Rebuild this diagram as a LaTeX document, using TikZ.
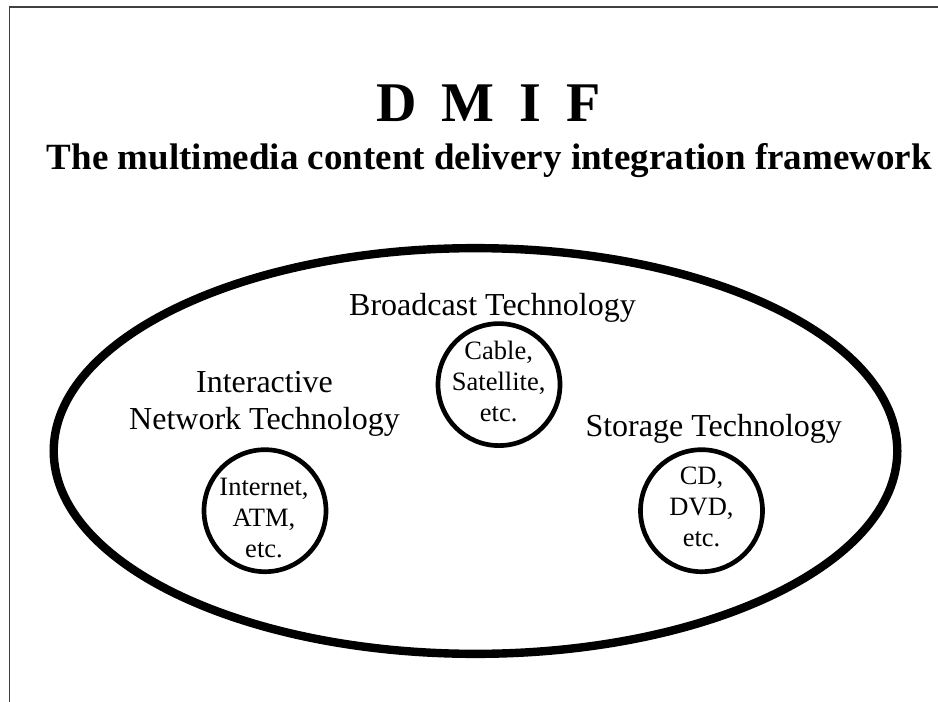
\documentclass[tikz,border=0pt]{standalone}
\usepackage{fontspec}
\setmainfont{Liberation Serif}
\usetikzlibrary{shapes.geometric}
\newdimen\u \u=0.75pt
\tikzset{
  outer/.style={draw,ellipse,line width=6.3pt,minimum width=843.6\u,minimum height=405.7\u,inner sep=0pt},
  tech/.style={draw,circle,line width=3.5pt,inner sep=0pt,minimum size=122\u},
  techtext/.style={align=center,inner sep=0pt,font=\fontsize{26.5\u}{31\u}\selectfont},
  lab/.style={align=center,inner sep=0pt,font=\fontsize{32\u}{37.5\u}\selectfont},
  ttl/.style={anchor=base,inner sep=0pt,font=\bfseries\fontsize{56\u}{64\u}\selectfont},
  sub/.style={anchor=base,inner sep=0pt,font=\bfseries\fontsize{37\u}{40\u}\selectfont}
}
\begin{document}
\begin{tikzpicture}[x=0.75pt,y=-0.75pt]
\useasboundingbox (0,0) rectangle (938,702);
\fill[white] (0,0) rectangle (938,702);
\coordinate (tl) at (9.5,702);
\coordinate (tt) at (9.5,7);
\coordinate (tr) at (938,7);
\draw[line width=1pt,black!75] (tl) -- (tt) -- (tr);
\node[ttl] (title) at (488.5,122) {D\hspace{0.45em}M\hspace{0.45em}I\hspace{0.45em}F};
\node[sub] (subtitle) at (489.3,170) {The multimedia content delivery integration framework};
\node[outer] (o) at (475.5,451) {};
\node[lab,anchor=base] (b) at (492.5,315) {Broadcast Technology};
\node[lab] (n) at (264.5,404) {Interactive\\Network Technology};
\node[lab,anchor=base] (s) at (713.7,436.7) {Storage Technology};
\node[tech] (c1) at (499,384.6) {};
\node[tech] (c2) at (265,510.7) {};
\node[tech] (c3) at (701.5,510.7) {};
\node[techtext] (t1) at (498.7,381) {Cable,\\Satellite,\\etc.};
\node[techtext] (t2) at (264,518.5) {Internet,\\ATM,\\etc.};
\node[techtext] (t3) at (701.5,506.5) {CD,\\DVD,\\etc.};
\end{tikzpicture}
\end{document}
